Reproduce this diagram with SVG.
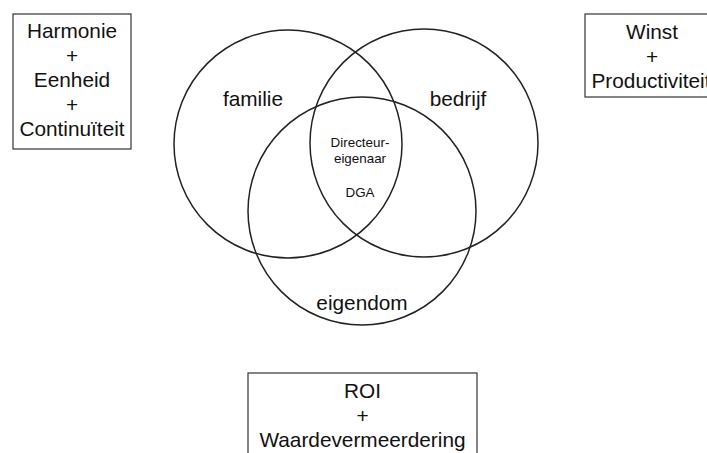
<svg xmlns="http://www.w3.org/2000/svg" width="707" height="453" viewBox="0 0 707 453">
<style>
.c{fill:none;stroke:#222;stroke-width:1.5}
.b{fill:#fff;stroke:#333;stroke-width:1.2}
.t{font-family:"Liberation Sans",Arial,sans-serif;fill:#111;text-anchor:middle}
.l{font-size:20.8px}
.s{font-size:13.4px}
</style>
<rect width="707" height="453" fill="#fff"/>
<g id="circles">
<circle id="familie-circle" class="c" cx="288" cy="144" r="114"/>
<circle id="bedrijf-circle" class="c" cx="424" cy="143" r="114"/>
<circle id="eigendom-circle" class="c" cx="362" cy="211" r="114"/>
</g>
<g id="familie"><text class="t l" x="253" y="106">familie</text></g>
<g id="bedrijf"><text class="t l" x="458" y="106">bedrijf</text></g>
<g id="eigendom"><text class="t l" x="362" y="310">eigendom</text></g>
<g id="dga">
<text class="t s" x="360" y="147">Directeur-</text>
<text class="t s" x="360" y="163">eigenaar</text>
<text class="t s" x="360" y="197">DGA</text>
</g>
<g id="box-familie">
<rect class="b" x="13" y="14" width="118" height="135"/>
<text class="t l" x="72" y="38">Harmonie</text>
<text class="t l" x="72" y="62.5">+</text>
<text class="t l" x="72" y="87">Eenheid</text>
<text class="t l" x="72" y="111.5">+</text>
<text class="t l" x="72" y="136">Continuïteit</text>
</g>
<g id="box-bedrijf">
<rect class="b" x="585" y="14" width="140" height="83"/>
<text class="t l" x="652" y="39">Winst</text>
<text class="t l" x="652" y="63.5">+</text>
<text class="t l" x="651" y="88">Productiviteit</text>
</g>
<g id="box-eigendom">
<rect class="b" x="248" y="373" width="229" height="100"/>
<text class="t l" x="362.5" y="398">ROI</text>
<text class="t l" x="362.5" y="422.5">+</text>
<text class="t l" x="362.5" y="447">Waardevermeerdering</text>
</g>
<g id="connectors"></g>
</svg>
